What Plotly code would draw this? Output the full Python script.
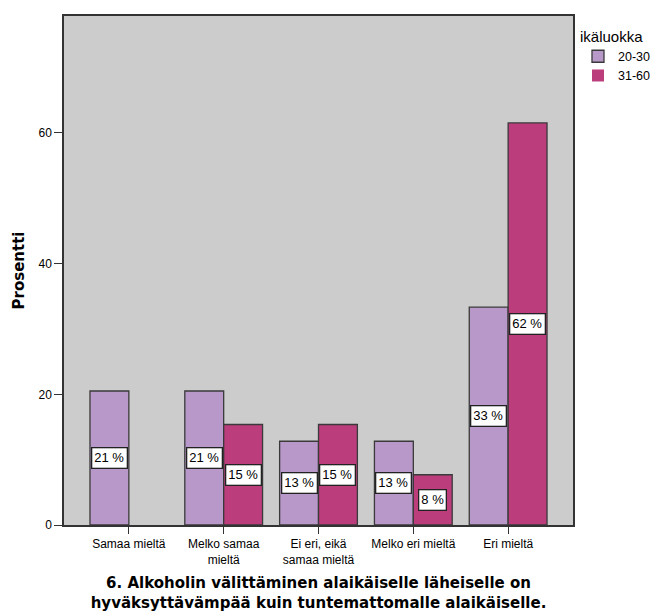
import plotly.graph_objects as go

categories = ["Samaa mieltä", "Melko samaa<br>mieltä", "Ei eri, eikä<br>samaa mieltä",
              "Melko eri mieltä", "Eri mieltä"]
series_names = ["20-30", "31-60"]
values_2030 = [20.51, 20.51, 12.82, 12.82, 33.33]
values_3160 = [0, 15.38, 15.38, 7.69, 61.54]
colors = ["#B898C9", "#BB3D7C"]
y_ticks = [0, 20, 40, 60]

FONT = "Arial, Liberation Sans, sans-serif"
BOLD = "DejaVu Sans, sans-serif"

fig = go.Figure()
for name, vals, col in zip(series_names, [values_2030, values_3160], colors):
    fig.add_trace(go.Bar(
        x=list(range(len(categories))), y=vals, name=name,
        marker=dict(color=col,
                    line=dict(color="#3A3A3A", width=[0 if v == 0 else 1.3 for v in vals])),
        hoverinfo="skip",
    ))

bargap = 0.18
bw = (1 - bargap) / 2
annotations = []
for si, vals in enumerate([values_2030, values_3160]):
    off = (si - 0.5) * bw
    for i, v in enumerate(vals):
        if v <= 0:
            continue
        annotations.append(dict(
            x=i + off, y=v / 2, xref="x", yref="y",
            text=f"{round(v)} %", showarrow=False,
            font=dict(family=FONT, size=13, color="black"),
            bgcolor="white", bordercolor="#222222", borderwidth=1.3, borderpad=2,
        ))

fig.update_layout(
    width=652, height=612,
    margin=dict(l=64, r=79, t=16, b=87, autoexpand=False),
    paper_bgcolor="white", plot_bgcolor="#CCCCCC",
    barmode="group", bargap=bargap, bargroupgap=0,
    font=dict(family=FONT, color="black"),
    showlegend=True,
    legend=dict(
        title=dict(text="ikäluokka", font=dict(size=15, family=FONT)),
        x=1.0098, y=0.988, xanchor="left", yanchor="top",
        font=dict(size=12.5, family=FONT), itemwidth=30,
        tracegroupgap=0, bgcolor="rgba(0,0,0,0)",
    ),
    annotations=annotations,
)
fig.update_xaxes(
    tickmode="array", tickvals=list(range(len(categories))), ticktext=categories,
    range=[-0.684, len(categories) - 1 + 0.684],
    showgrid=False, zeroline=False, automargin=False,
    showline=True, linecolor="#333333", linewidth=1.5, mirror=True,
    ticks="outside", ticklen=7, tickcolor="#333333",
    tickfont=dict(size=12, family=FONT),
    title=dict(text="<b>6. Alkoholin välittäminen alaikäiselle läheiselle on<br>hyväksyttävämpää kuin tuntemattomalle alaikäiselle.</b>",
               font=dict(size=15, family=BOLD), standoff=12),
)
fig.update_yaxes(
    range=[0, 77.9], tickvals=y_ticks, showgrid=False, zeroline=False, automargin=False,
    showline=True, linecolor="#333333", linewidth=1.5, mirror=True,
    ticks="outside", ticklen=8, tickcolor="#333333",
    tickfont=dict(size=12, family=FONT),
    title=dict(text="<b>Prosentti</b>", font=dict(size=15, family=BOLD), standoff=10),
)

fig.write_html("out.html", config={"displayModeBar": False},
               post_script="document.body.style.margin='0';")
